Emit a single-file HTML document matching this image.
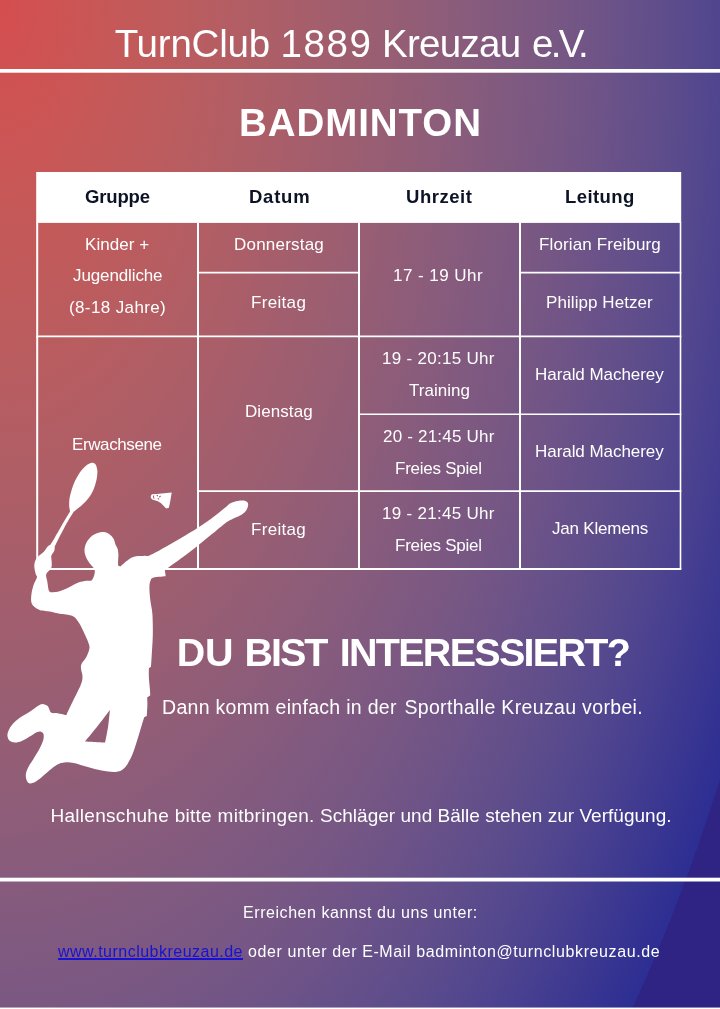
<!DOCTYPE html>
<html lang="de"><head><meta charset="utf-8"><title>TurnClub 1889 Kreuzau e.V. – Badminton</title>
<style>
html,body{margin:0;padding:0;width:720px;height:1009px;overflow:hidden}
body{width:720px;height:1009px;overflow:hidden;position:relative;background:#2f2484;font-family:"Liberation Sans",sans-serif}
.t{position:absolute;white-space:nowrap;margin:0;will-change:transform}
.lnk{color:#1a12d2;text-decoration:underline;text-decoration-thickness:1.5px;text-underline-offset:1.4px}
svg{position:absolute;left:0;top:0}
</style></head><body>
<svg width="720" height="1009" viewBox="0 0 720 1009">
<defs><radialGradient id="bg" gradientUnits="userSpaceOnUse" cx="0" cy="0" r="1" gradientTransform="scale(833,1549)"><stop offset="0.0%" stop-color="rgb(212,77,79)"/><stop offset="5.0%" stop-color="rgb(208,82,82)"/><stop offset="10.0%" stop-color="rgb(202,86,85)"/><stop offset="15.0%" stop-color="rgb(196,89,89)"/><stop offset="20.0%" stop-color="rgb(190,91,92)"/><stop offset="25.0%" stop-color="rgb(183,93,97)"/><stop offset="30.0%" stop-color="rgb(176,94,101)"/><stop offset="35.0%" stop-color="rgb(169,94,105)"/><stop offset="40.0%" stop-color="rgb(161,94,110)"/><stop offset="45.0%" stop-color="rgb(154,94,114)"/><stop offset="50.0%" stop-color="rgb(146,93,118)"/><stop offset="55.0%" stop-color="rgb(138,92,123)"/><stop offset="60.0%" stop-color="rgb(130,90,127)"/><stop offset="65.0%" stop-color="rgb(122,88,130)"/><stop offset="70.0%" stop-color="rgb(114,85,134)"/><stop offset="75.0%" stop-color="rgb(104,81,137)"/><stop offset="80.0%" stop-color="rgb(94,77,139)"/><stop offset="85.0%" stop-color="rgb(83,71,142)"/><stop offset="90.0%" stop-color="rgb(71,63,144)"/><stop offset="95.0%" stop-color="rgb(58,55,145)"/><stop offset="100.0%" stop-color="rgb(45,46,147)"/><stop offset="100.0%" stop-color="rgb(47,36,132)"/></radialGradient></defs>
<rect width="720" height="1009" fill="url(#bg)"/>
<rect x="36.2" y="172" width="645" height="50.9" fill="#fff"/>
<rect x="0" y="69.0" width="720" height="3.7" fill="#fff"/>
<rect x="0" y="877.7" width="720" height="3.8" fill="#fff"/>
<rect x="0" y="1007.55" width="720" height="1.45" fill="#fff"/>
<g stroke="#fff" fill="none"><line x1="37.2" y1="222" x2="37.2" y2="569.0" stroke-width="2"/><line x1="680.5" y1="222" x2="680.5" y2="569.0" stroke-width="1.6"/><line x1="198.0" y1="222.7" x2="198.0" y2="569.0" stroke-width="2"/><line x1="359.0" y1="222.7" x2="359.0" y2="569.0" stroke-width="2"/><line x1="520.0" y1="222.7" x2="520.0" y2="569.0" stroke-width="2"/><line x1="36.2" y1="569.0" x2="681.3" y2="569.0" stroke-width="2.0"/><line x1="36.2" y1="336.4" x2="681.3" y2="336.4" stroke-width="1.6"/><line x1="197.0" y1="272.7" x2="360.0" y2="272.7" stroke-width="1.7"/><line x1="519.0" y1="272.7" x2="681.3" y2="272.7" stroke-width="1.7"/><line x1="358.0" y1="414.2" x2="681.3" y2="414.2" stroke-width="1.6"/><line x1="197.0" y1="491.1" x2="681.3" y2="491.1" stroke-width="1.7"/></g>
<path fill="#fff" fill-rule="evenodd" d="M50.3 544.9C51.5 544.9 54.7 546.9 54.7 546.9C54.7 546.9 54.8 549.4 54.2 550.9C53.6 552.4 51.7 554.1 51.3 555.8C50.9 557.4 51.6 558.8 51.6 560.8C51.6 562.8 52.2 565.5 51.3 567.7C50.4 569.9 47.0 571.8 46.3 574.1C45.6 576.4 46.9 578.9 47.3 581.6C47.7 584.3 48.2 588.7 48.8 590.5C49.4 592.3 50.8 592.3 50.8 592.3C50.8 592.3 55.7 592.3 58.7 591.5C61.7 590.7 65.3 589.0 68.6 587.5C71.9 586.0 75.5 583.7 78.5 582.6C81.5 581.5 84.2 581.2 86.4 580.8C88.6 580.4 90.3 581.4 91.6 580.4C92.9 579.4 93.9 576.4 94.4 574.6C94.9 572.8 94.9 570.6 94.6 569.4C94.3 568.1 93.9 568.5 92.8 567.1C91.7 565.7 89.2 562.9 87.9 560.7C86.6 558.5 85.4 555.9 84.9 553.7C84.4 551.6 84.4 549.8 84.7 547.8C85.0 545.8 85.7 543.8 86.9 541.8C88.1 539.8 90.0 537.4 91.8 535.9C93.6 534.4 95.8 533.5 97.8 532.9C99.8 532.3 101.7 531.9 103.7 532.1C105.7 532.4 108.0 533.3 109.7 534.4C111.4 535.5 112.7 537.2 113.7 538.9C114.7 540.6 114.9 543.1 115.6 544.8C116.2 546.4 117.1 547.1 117.6 548.8C118.1 550.4 118.3 552.7 118.4 554.7C118.5 556.7 118.1 558.9 118.1 560.7C118.0 562.5 118.1 565.6 118.1 565.6C118.1 565.6 120.1 566.6 120.1 566.6C120.1 566.6 122.9 564.1 124.6 562.7C126.3 561.3 128.5 559.3 130.5 558.2C132.5 557.1 134.2 556.6 136.4 556.2C138.6 555.8 141.2 556.1 143.5 555.9C145.8 555.7 146.4 556.6 150.0 555.2C153.6 553.8 159.8 550.2 165.0 547.3C170.2 544.4 175.4 541.3 181.0 538.0C186.6 534.7 192.8 531.2 198.3 527.6C203.8 524.0 209.4 519.9 214.0 516.5C218.6 513.1 223.3 509.1 226.0 507.0C228.7 504.9 228.3 504.6 230.0 503.6C231.7 502.6 233.8 501.7 236.0 501.2C238.2 500.7 241.6 500.4 243.5 500.6C245.4 500.8 246.8 501.5 247.6 502.4C248.3 503.3 248.3 504.5 248.0 506.0C247.7 507.5 246.9 509.6 245.6 511.2C244.3 512.8 242.2 514.3 240.0 515.6C237.8 516.9 234.9 517.8 232.5 519.0C230.1 520.2 229.0 520.4 225.6 522.9C222.2 525.4 216.6 530.3 212.0 534.0C207.4 537.7 203.1 541.5 198.3 545.3C193.5 549.1 187.8 553.4 183.0 557.0C178.2 560.6 172.2 564.7 169.2 566.9C166.2 569.1 164.9 570.2 164.9 570.2C164.9 570.2 165.7 576.2 165.7 576.2C165.7 576.2 156.1 576.8 153.6 577.6C151.1 578.4 151.1 579.3 150.4 581.0C149.7 582.7 149.4 584.8 149.4 588.0C149.4 591.2 149.8 595.7 150.3 600.0C150.8 604.3 152.0 608.1 152.4 613.9C152.8 619.7 152.9 627.8 152.8 634.7C152.7 641.7 152.0 650.3 151.7 655.6C151.4 660.9 151.0 666.7 151.0 666.7C151.0 666.7 148.9 668.1 148.9 668.1C148.9 668.1 148.7 674.1 148.9 677.8C149.1 681.5 149.8 687.3 150.0 690.3C150.2 693.3 150.2 695.6 150.2 695.6C150.2 695.6 147.2 697.4 147.2 697.4C147.2 697.4 147.5 701.9 147.4 705.0C147.3 708.1 146.8 716.0 146.8 716.0C146.8 716.0 144.2 717.2 144.2 717.2C144.2 717.2 143.2 720.4 141.9 724.7C140.6 729.0 138.2 737.2 136.4 742.8C134.6 748.4 132.9 753.8 130.8 758.1C128.7 762.4 126.4 766.2 123.9 768.5C121.4 770.8 119.3 771.5 115.6 771.9C111.9 772.2 106.3 771.4 101.7 770.6C97.1 769.8 92.4 768.4 87.8 767.1C83.2 765.8 77.8 763.7 73.9 762.9C70.0 762.1 67.1 762.1 64.4 762.4C61.7 762.6 60.0 763.1 57.5 764.4C55.0 765.7 52.2 768.1 49.6 770.3C47.0 772.4 44.1 775.3 41.6 777.3C39.1 779.3 36.8 781.2 34.7 782.2C32.6 783.2 30.6 783.7 29.2 783.2C27.8 782.7 26.8 780.9 26.3 779.2C25.8 777.6 25.6 775.4 26.0 773.3C26.4 771.2 27.4 768.9 28.7 766.4C30.0 763.9 31.9 761.4 33.7 758.4C35.5 755.4 38.0 751.5 39.6 748.5C41.2 745.5 42.4 742.9 43.1 740.6C43.8 738.3 43.9 736.1 43.6 734.6C43.3 733.1 42.2 732.1 41.1 731.7C40.0 731.3 38.6 731.4 36.7 732.2C34.8 733.0 32.2 735.1 29.7 736.6C27.2 738.1 24.3 740.1 21.8 741.1C19.3 742.1 17.0 742.7 14.9 742.6C12.8 742.5 10.7 741.8 9.4 740.6C8.2 739.4 7.5 737.4 7.4 735.6C7.3 733.8 8.0 731.7 8.9 729.7C9.8 727.7 11.1 725.7 12.9 723.7C14.7 721.7 17.0 719.8 19.8 717.8C22.6 715.8 26.7 713.8 29.7 711.8C32.7 709.8 35.6 707.2 37.7 705.9C39.9 704.6 41.0 703.9 42.6 703.9C44.2 703.9 46.4 704.9 47.6 705.9C48.8 706.9 49.0 708.8 49.6 709.9C50.2 711.0 50.2 712.2 51.5 712.8C52.8 713.4 55.0 712.9 57.5 713.3C60.0 713.7 66.3 715.2 66.3 715.2C66.3 715.2 69.1 709.0 70.3 706.5C71.5 704.0 71.7 703.6 73.4 700.0C75.2 696.4 79.3 688.6 80.8 684.7C82.3 680.8 82.5 679.0 82.5 676.4C82.5 673.8 81.3 671.5 81.1 669.4C80.9 667.3 80.6 666.0 81.5 663.9C82.4 661.8 85.1 659.4 86.4 656.9C87.7 654.4 89.1 650.9 89.4 648.6C89.8 646.3 89.2 645.4 88.5 643.1C87.8 640.8 86.5 638.0 85.0 634.7C83.5 631.5 81.2 626.6 79.4 623.6C77.6 620.6 76.1 618.2 73.9 616.7C71.7 615.2 68.4 615.1 66.0 614.6C63.6 614.1 62.4 614.3 59.7 613.8C57.0 613.3 52.9 612.0 49.8 611.5C46.7 611.0 43.4 611.2 40.9 610.5C38.4 609.8 36.5 608.6 34.9 607.3C33.3 605.9 32.0 604.5 31.4 602.4C30.8 600.3 31.1 597.3 31.4 594.5C31.7 591.7 32.5 588.3 33.4 585.5C34.3 582.7 36.5 579.4 36.9 577.6C37.3 575.8 36.3 576.2 35.9 574.6C35.5 573.0 34.6 569.8 34.4 567.7C34.2 565.6 34.3 563.6 34.9 561.8C35.5 560.0 36.4 558.5 37.9 556.8C39.4 555.1 42.2 553.4 43.8 551.8C45.4 550.1 46.2 548.0 47.3 546.9C48.4 545.8 49.1 544.9 50.3 544.9ZM109.9 710.0C109.9 710.0 100.7 722.3 96.5 727.5C92.3 732.7 85.0 741.4 85.0 741.4C85.0 741.4 105.1 742.5 105.1 742.5C105.1 742.5 107.4 731.4 108.2 726.0C109.0 720.6 109.9 710.0 109.9 710.0Z"/>
<path fill="#fff" d="M92.5 462.7C93.8 462.8 94.8 463.4 95.6 464.6C96.4 465.8 97.0 468.2 97.3 469.9C97.6 471.6 97.3 473.4 97.2 475.0C97.1 476.6 96.9 478.0 96.5 479.8C96.1 481.6 95.5 484.0 94.8 486.0C94.1 488.0 93.5 489.8 92.5 491.7C91.5 493.6 90.3 495.7 89.0 497.5C87.7 499.3 85.9 501.2 84.6 502.6C83.3 504.0 82.2 505.0 81.0 506.0C79.8 507.0 78.7 507.8 77.7 508.6C76.7 509.4 75.6 510.3 74.8 511.0C74.0 511.7 74.4 510.7 72.9 512.9C71.4 515.1 66.0 524.4 66.0 524.4C66.0 524.4 58.3 539.2 58.3 539.2C58.3 539.2 55.2 545.6 55.2 545.6C55.2 545.6 52.5 551.0 52.5 551.0C52.5 551.0 48.6 548.0 48.6 548.0C48.6 548.0 50.4 544.6 50.4 544.6C50.4 544.6 53.9 539.2 53.9 539.2C53.9 539.2 62.3 524.4 62.3 524.4C62.3 524.4 67.6 515.5 68.9 513.2C70.2 510.9 69.9 511.9 69.9 510.8C70.0 509.7 69.3 508.5 69.2 506.5C69.1 504.5 69.1 501.4 69.5 498.6C69.9 495.8 71.0 492.2 71.7 489.7C72.4 487.2 73.1 485.5 73.9 483.5C74.7 481.5 75.7 479.7 76.7 477.8C77.7 475.9 78.8 474.0 80.0 472.3C81.2 470.6 82.3 469.2 83.6 467.9C84.9 466.5 86.5 465.1 88.0 464.2C89.5 463.3 91.2 462.6 92.5 462.7Z"/>
<path fill="#fff" fill-rule="evenodd" d="M150.8 496.1 L151.9 494.3 L156.7 493.9 L161.7 493.6 L171.7 492.4 L170.3 501.1 L168.9 507.8 L166.1 508.4 L163.3 505.6 L161.1 503.3 L158.3 501.4 L155.6 500.6 L152.2 499.4 L150.8 497.8 Z M153.2 495.6 L154.3 495.4 L153.9 497.0 L154.6 498.8 L153.5 498.6 L152.9 497.0 Z M156.6 495.0 L158.2 494.9 L157.6 496.4 L156.9 496.3 Z M158.9 496.6 L160.6 495.6 L160.9 496.6 L159.6 497.8 Z M157.4 498.2 L158.6 498.0 L159.4 499.4 L158.2 499.6 Z"/>
</svg>
<div class="t" style="left:0;top:21px;width:720px;height:45px;font-size:38.5px;line-height:45px;font-weight:400;color:#ffffff"><span style="position:absolute;left:114.75px;top:0;letter-spacing:-0.215px">TurnClub</span> <span style="position:absolute;left:280.50px;top:0;letter-spacing:1.555px">1889</span> <span style="position:absolute;left:382.00px;top:0;letter-spacing:-0.706px">Kreuzau</span> <span style="position:absolute;left:532.10px;top:0;letter-spacing:-2.784px">e.V.</span></div>
<div class="t" style="left:238.60px;top:100.00px;font-size:38.5px;line-height:45px;font-weight:700;color:#ffffff;letter-spacing:0.925px">BADMINTON</div>
<div class="t" style="left:85.25px;top:185.00px;font-size:18.5px;line-height:23px;font-weight:700;color:#0b1324;letter-spacing:-0.148px">Gruppe</div>
<div class="t" style="left:248.60px;top:185.00px;font-size:18.5px;line-height:23px;font-weight:700;color:#0b1324;letter-spacing:0.760px">Datum</div>
<div class="t" style="left:406.00px;top:185.00px;font-size:18.5px;line-height:23px;font-weight:700;color:#0b1324;letter-spacing:0.527px">Uhrzeit</div>
<div class="t" style="left:565.25px;top:185.00px;font-size:18.5px;line-height:23px;font-weight:700;color:#0b1324;letter-spacing:0.410px">Leitung</div>
<div class="t" style="left:85.00px;top:234.00px;font-size:17.0px;line-height:21px;font-weight:400;color:#ffffff;letter-spacing:0.062px">Kinder +</div>
<div class="t" style="left:233.70px;top:234.00px;font-size:17.0px;line-height:21px;font-weight:400;color:#ffffff;letter-spacing:0.207px">Donnerstag</div>
<div class="t" style="left:539.30px;top:234.00px;font-size:17.0px;line-height:21px;font-weight:400;color:#ffffff;letter-spacing:0.118px">Florian Freiburg</div>
<div class="t" style="left:72.70px;top:265.00px;font-size:17.0px;line-height:21px;font-weight:400;color:#ffffff;letter-spacing:-0.118px">Jugendliche</div>
<div class="t" style="left:393.20px;top:265.00px;font-size:17.0px;line-height:21px;font-weight:400;color:#ffffff;letter-spacing:0.452px">17 - 19 Uhr</div>
<div class="t" style="left:251.40px;top:292.00px;font-size:17.0px;line-height:21px;font-weight:400;color:#ffffff;letter-spacing:0.324px">Freitag</div>
<div class="t" style="left:545.70px;top:292.00px;font-size:17.0px;line-height:21px;font-weight:400;color:#ffffff;letter-spacing:0.072px">Philipp Hetzer</div>
<div class="t" style="left:69.00px;top:297.00px;font-size:17.0px;line-height:21px;font-weight:400;color:#ffffff;letter-spacing:0.379px">(8-18 Jahre)</div>
<div class="t" style="left:382.00px;top:348.00px;font-size:17.0px;line-height:21px;font-weight:400;color:#ffffff;letter-spacing:0.284px">19 - 20:15 Uhr</div>
<div class="t" style="left:535.00px;top:364.00px;font-size:17.0px;line-height:21px;font-weight:400;color:#ffffff;letter-spacing:-0.053px">Harald Macherey</div>
<div class="t" style="left:409.40px;top:380.00px;font-size:17.0px;line-height:21px;font-weight:400;color:#ffffff;letter-spacing:0.038px">Training</div>
<div class="t" style="left:244.80px;top:401.00px;font-size:17.0px;line-height:21px;font-weight:400;color:#ffffff;letter-spacing:0.080px">Dienstag</div>
<div class="t" style="left:383.00px;top:426.00px;font-size:17.0px;line-height:21px;font-weight:400;color:#ffffff;letter-spacing:0.207px">20 - 21:45 Uhr</div>
<div class="t" style="left:72.40px;top:434.00px;font-size:17.0px;line-height:21px;font-weight:400;color:#ffffff;letter-spacing:-0.388px">Erwachsene</div>
<div class="t" style="left:535.00px;top:441.00px;font-size:17.0px;line-height:21px;font-weight:400;color:#ffffff;letter-spacing:-0.053px">Harald Macherey</div>
<div class="t" style="left:395.40px;top:458.00px;font-size:17.0px;line-height:21px;font-weight:400;color:#ffffff;letter-spacing:-0.244px">Freies Spiel</div>
<div class="t" style="left:382.00px;top:503.00px;font-size:17.0px;line-height:21px;font-weight:400;color:#ffffff;letter-spacing:0.284px">19 - 21:45 Uhr</div>
<div class="t" style="left:552.30px;top:518.00px;font-size:17.0px;line-height:21px;font-weight:400;color:#ffffff;letter-spacing:-0.197px">Jan Klemens</div>
<div class="t" style="left:251.00px;top:519.00px;font-size:17.0px;line-height:21px;font-weight:400;color:#ffffff;letter-spacing:0.308px">Freitag</div>
<div class="t" style="left:395.40px;top:535.00px;font-size:17.0px;line-height:21px;font-weight:400;color:#ffffff;letter-spacing:-0.244px">Freies Spiel</div>
<div class="t" style="left:0;top:629px;width:720px;height:46px;font-size:39.5px;line-height:46px;font-weight:700;color:#ffffff"><span style="position:absolute;left:176.80px;top:0;letter-spacing:-0.426px">DU</span> <span style="position:absolute;left:244.50px;top:0;letter-spacing:-2.015px">BIST</span> <span style="position:absolute;left:339.70px;top:0;letter-spacing:-1.705px">INTERESSIERT?</span></div>
<div class="t" style="left:0;top:695px;width:720px;height:24px;font-size:19.5px;line-height:24px;font-weight:400;color:#ffffff"><span style="position:absolute;left:162.10px;top:0;letter-spacing:0.291px">Dann komm einfach in der</span> <span style="position:absolute;left:404.40px;top:0;letter-spacing:0.339px">Sporthalle Kreuzau vorbei.</span></div>
<div class="t" style="left:0;top:804px;width:720px;height:23px;font-size:19.0px;line-height:23px;font-weight:400;color:#ffffff"><span style="position:absolute;left:50.50px;top:0;letter-spacing:0.286px">Hallenschuhe bitte mitbringen.</span> <span style="position:absolute;left:320.00px;top:0;letter-spacing:0.022px">Schläger und Bälle stehen zur Verfügung.</span></div>
<div class="t" style="left:242.60px;top:903.00px;font-size:16.0px;line-height:19px;font-weight:400;color:#ffffff;letter-spacing:0.563px">Erreichen kannst du uns unter:</div>
<div class="t" style="left:58.20px;top:942.00px;font-size:16.0px;line-height:19px;color:#fff"><span class="lnk" style="letter-spacing:0.485px">www.turnclubkreuzau.de</span><span style="letter-spacing:0.610px"> oder unter der E-Mail badminton@turnclubkreuzau.de</span></div>
</body></html>
